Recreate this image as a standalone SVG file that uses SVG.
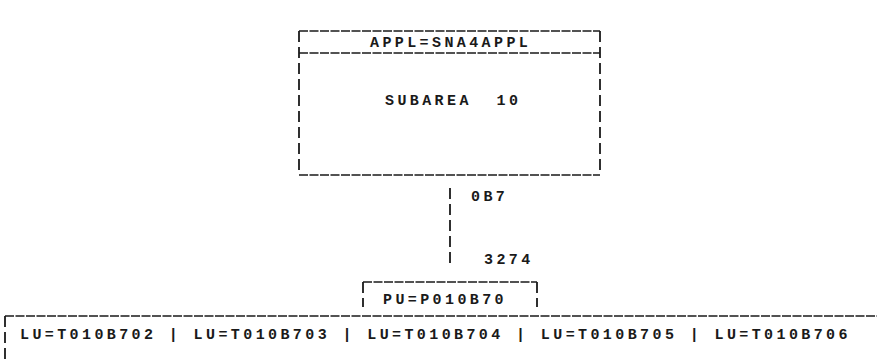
<svg xmlns="http://www.w3.org/2000/svg" width="877" height="360" viewBox="0 0 877 360">
<style>
.t{font-family:"Liberation Mono","DejaVu Sans Mono",monospace;font-size:15px;font-weight:bold;fill:#1a1a1a;letter-spacing:3.4px;white-space:pre}
.h{stroke:#1a1a1a;stroke-width:1.6;fill:none;stroke-dasharray:9 1.5}
.v{stroke:#1a1a1a;stroke-width:1.8;fill:none;stroke-dasharray:11 5}
</style>
<rect width="877" height="360" fill="#fff"/>
<g id="appl">
<path class="h" d="M299 31H600"/>
<path class="h" d="M299 53H600"/>
<path class="h" d="M299 175H600"/>
<path class="v" d="M299 31V175"/>
<path class="v" d="M600 31V175"/>
<text class="t" x="370" y="47" xml:space="preserve">APPL=SNA4APPL</text>
<text class="t" x="385" y="105" xml:space="preserve">SUBAREA  10</text>
</g>
<g id="connectors">
<path class="v" d="M450 188V266"/>
<text class="t" x="471" y="201">0B7</text>
<text class="t" x="484" y="264">3274</text>
</g>
<g id="pu">
<path class="h" d="M363 282H537"/>
<path class="v" d="M363 282V307"/>
<path class="v" d="M537 282V307"/>
<text class="t" x="383" y="304">PU=P010B70</text>
</g>
<g id="lu">
<path class="h" d="M5 316H877"/>
<path class="v" d="M5 316V360"/>
<text class="t" x="20" y="339" xml:space="preserve">LU=T010B702 | LU=T010B703 | LU=T010B704 | LU=T010B705 | LU=T010B706</text>
</g>
</svg>
